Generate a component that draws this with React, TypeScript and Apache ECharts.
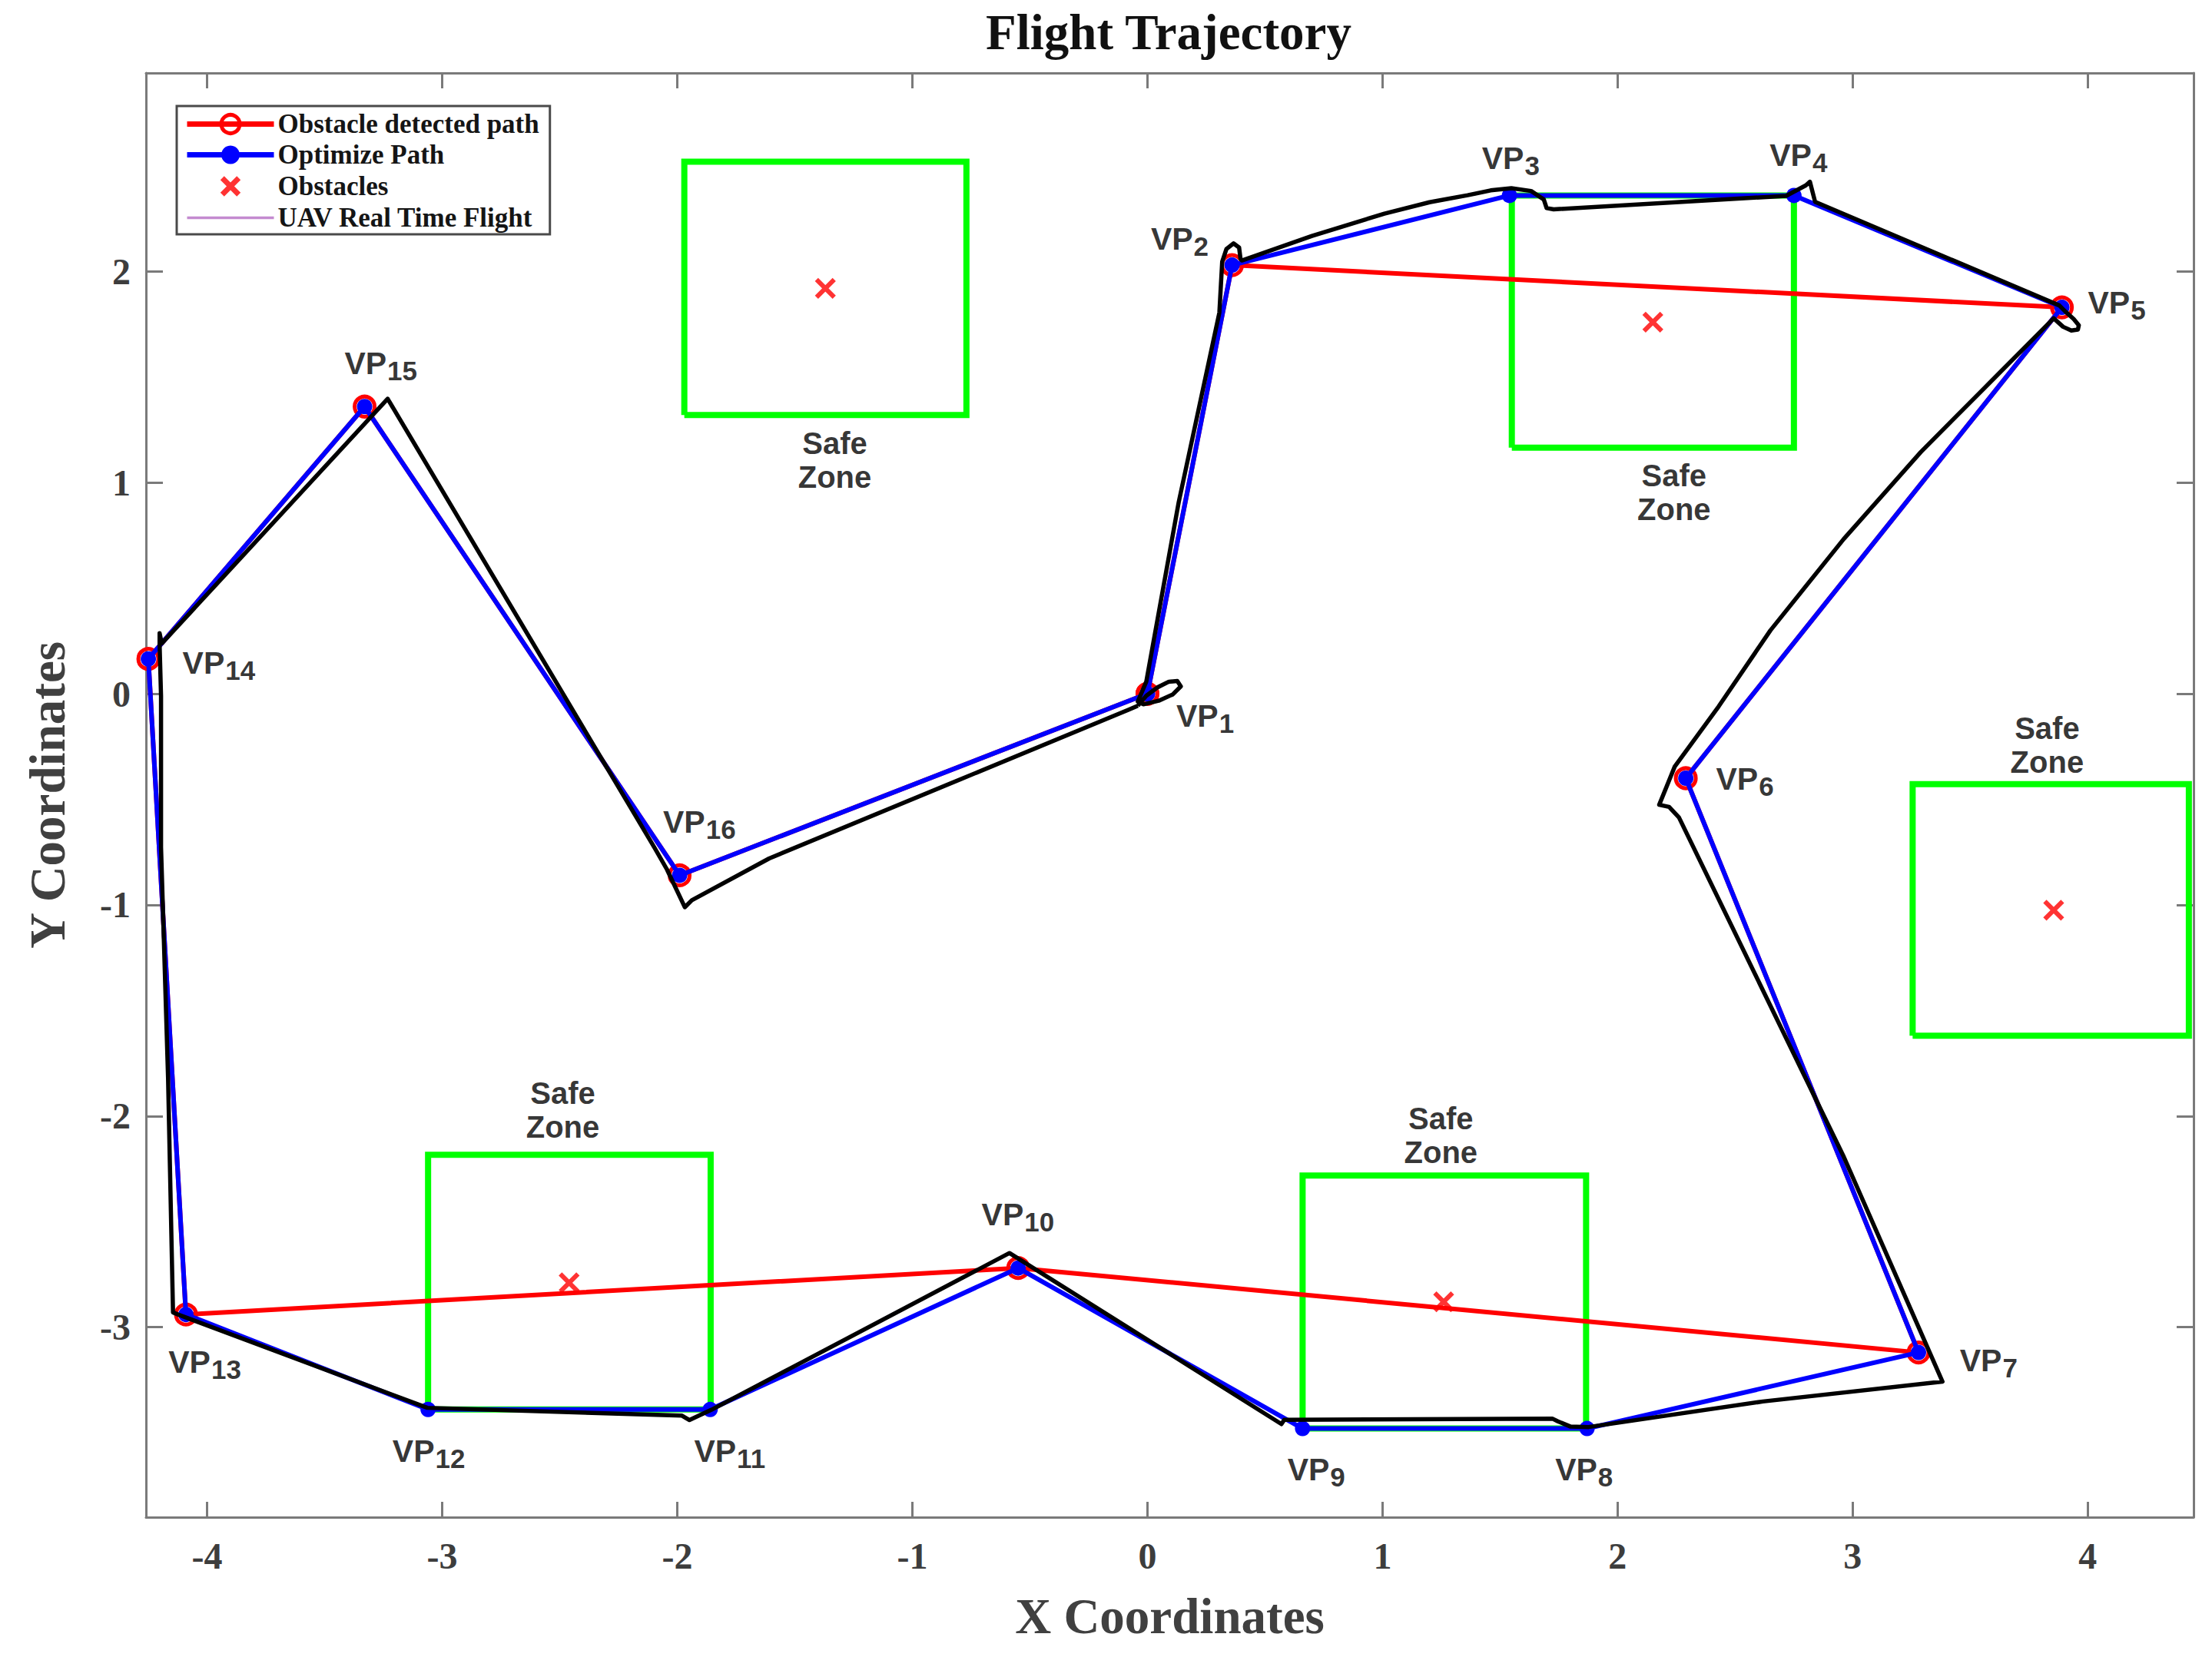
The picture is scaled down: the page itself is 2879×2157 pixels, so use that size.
import React, { useEffect, useRef } from "react";
import * as echarts from "echarts";

// ---------------- data ----------------
const X_MIN = -4.26;
const X_MAX = 4.45;
const Y_MIN = -3.9;
const Y_MAX = 2.94;

// Via points VP1 .. VP16
const waypoints: [number, number][] = [
  [0.0, 0.0],
  [0.36, 2.03],
  [1.54, 2.36],
  [2.75, 2.36],
  [3.89, 1.83],
  [2.29, -0.4],
  [3.28, -3.12],
  [1.87, -3.48],
  [0.66, -3.48],
  [-0.55, -2.72],
  [-1.86, -3.39],
  [-3.06, -3.39],
  [-4.09, -2.94],
  [-4.25, 0.165],
  [-3.33, 1.36],
  [-1.99, -0.86],
];

const detectedPathOrder = [1, 2, 5, 6, 7, 10, 13, 14, 15, 16, 1];
const optimizedPathOrder = [1, 2, 3, 4, 5, 6, 7, 8, 9, 10, 11, 12, 13, 14, 15, 16, 1];

const obstacles: [number, number][] = [
  [-1.37, 1.92],
  [2.15, 1.76],
  [3.855, -1.025],
  [1.26, -2.88],
  [-2.46, -2.79],
];

// [x0, y0, x1, y1]
const safeZones: [number, number, number, number][] = [
  [-1.97, 1.32, -0.77, 2.52],
  [1.55, 1.165, 2.75, 2.36],
  [3.255, -1.62, 4.43, -0.428],
  [0.66, -3.48, 1.866, -2.282],
  [-3.06, -3.39, -1.858, -2.184],
];

const safeZoneLabelAnchors: [number, number][] = [
  [-1.33, 1.108],
  [2.24, 0.954],
  [3.827, -0.244],
  [1.248, -2.093],
  [-2.487, -1.973],
];

const vpLabelAnchors: [number, number][] = [
  [0.121, -0.104],
  [0.013, 2.153],
  [1.421, 2.535],
  [2.645, 2.549],
  [3.999, 1.852],
  [2.417, -0.405],
  [3.454, -3.158],
  [1.733, -3.674],
  [0.594, -3.674],
  [-0.707, -2.468],
  [-1.93, -3.587],
  [-3.213, -3.587],
  [-4.166, -3.165],
  [-4.106, 0.144],
  [-3.417, 1.564],
  [-2.062, -0.606],
];

const uavFlight: [number, number][] = [
  [-0.041, -0.057],
  [-0.005, -0.01],
  [0.043, 0.03],
  [0.091, 0.057],
  [0.127, 0.06],
  [0.142, 0.035],
  [0.108, -0.003],
  [0.048, -0.033],
  [-0.017, -0.05],
  [-0.041, -0.037],
  [-0.023, 0.01],
  [-0.005, 0.057],
  [0.133, 0.907],
  [0.306, 1.805],
  [0.318, 2.046],
  [0.336, 2.106],
  [0.366, 2.133],
  [0.39, 2.113],
  [0.396, 2.059],
  [0.402, 2.052],
  [0.7, 2.168],
  [1.008, 2.274],
  [1.2, 2.328],
  [1.362, 2.361],
  [1.46, 2.384],
  [1.548, 2.394],
  [1.632, 2.381],
  [1.686, 2.341],
  [1.698, 2.3],
  [1.728, 2.294],
  [2.717, 2.358],
  [2.801, 2.408],
  [2.818, 2.425],
  [2.84, 2.33],
  [3.879, 1.839],
  [3.905, 1.81],
  [3.94, 1.775],
  [3.962, 1.745],
  [3.958, 1.725],
  [3.93, 1.72],
  [3.895, 1.738],
  [3.855, 1.778],
  [3.616, 1.51],
  [3.29, 1.145],
  [2.962, 0.733],
  [2.65, 0.3],
  [2.43, -0.06],
  [2.243, -0.345],
  [2.177, -0.526],
  [2.219, -0.536],
  [2.261, -0.586],
  [2.962, -2.193],
  [3.382, -3.258],
  [2.618, -3.352],
  [1.877, -3.473],
  [1.8, -3.471],
  [1.746, -3.446],
  [1.722, -3.433],
  [0.582, -3.439],
  [0.57, -3.459],
  [-0.587, -2.649],
  [-1.609, -3.248],
  [-1.854, -3.391],
  [-1.948, -3.44],
  [-1.98, -3.419],
  [-3.063, -3.382],
  [-4.124, -2.94],
  [-4.145, -2.93],
  [-4.166, -1.822],
  [-4.196, -0.727],
  [-4.196, -0.01],
  [-4.202, 0.231],
  [-4.202, 0.287],
  [-4.193, 0.238],
  [-3.232, 1.397],
  [-2.098, -0.727],
  [-2.044, -0.832],
  [-1.968, -1.011],
  [-1.938, -0.978],
  [-1.609, -0.78],
  [-0.083, -0.077],
  [-0.041, -0.057],
];

// ---------------- styles ----------------
const SERIF = "Liberation Serif";
const SANS = "Liberation Sans";
const AXIS_GRAY = "#7a7a7a";
const LABEL_GRAY = "#3d3d3d";

const intLabel = (v: number) =>
  Math.abs(v - Math.round(v)) < 1e-9 ? String(Math.round(v)) : "";

function buildOption(): any {
  const boxSeries = safeZones.map((b, i) => ({
    type: "line",
    name: "safe" + i,
    data: [
      [b[0], b[1]],
      [b[2], b[1]],
      [b[2], b[3]],
      [b[0], b[3]],
      [b[0], b[1]],
    ],
    symbol: "none",
    lineStyle: { color: "#00ff00", width: 8, join: "miter" },
    z: 1,
    silent: true,
  }));

  const commonX = {
    type: "value",
    min: X_MIN,
    max: X_MAX,
    splitNumber: 8,
    splitLine: { show: false },
    axisLine: { onZero: false, lineStyle: { color: AXIS_GRAY, width: 3 } },
    axisTick: { inside: true, length: 20, lineStyle: { color: AXIS_GRAY, width: 3 } },
  };
  const commonY = {
    type: "value",
    min: Y_MIN,
    max: Y_MAX,
    splitNumber: 6,
    splitLine: { show: false },
    axisLine: { onZero: false, lineStyle: { color: AXIS_GRAY, width: 3 } },
    axisTick: { inside: true, length: 22, lineStyle: { color: AXIS_GRAY, width: 3 } },
  };
  const tickLabel = {
    fontFamily: SERIF,
    fontWeight: "bold",
    fontSize: 48,
    color: LABEL_GRAY,
    formatter: intLabel,
  };
  const nameStyle = {
    fontFamily: SERIF,
    fontWeight: "bold",
    fontSize: 65,
    color: "#404040",
  };

  return {
    animation: false,
    backgroundColor: "#ffffff",
    title: {
      text: "Flight Trajectory",
      left: 1516,
      top: 4,
      textAlign: "center",
      textStyle: { fontFamily: SERIF, fontWeight: "bold", fontSize: 65, color: "#111" },
    },
    grid: { left: 190, right: 24, top: 95, bottom: 182, containLabel: false, outerBoundsMode: "none" },
    xAxis: [
      {
        ...commonX,
        position: "bottom",
        axisLabel: { ...tickLabel, margin: 26 },
        name: "X Coordinates",
        nameLocation: "middle",
        nameGap: 96,
        nameTextStyle: nameStyle,
      },
      { ...commonX, position: "top", axisLabel: { show: false } },
    ],
    yAxis: [
      {
        ...commonY,
        position: "left",
        axisLabel: { ...tickLabel, margin: 20 },
        name: "Y Coordinates",
        nameLocation: "middle",
        nameGap: 96,
        nameTextStyle: nameStyle,
      },
      { ...commonY, position: "right", axisLabel: { show: false } },
    ],
    legend: {
      orient: "vertical",
      left: 230,
      top: 138,
      padding: [6, 14, 4, 10],
      itemWidth: 113,
      itemHeight: 30,
      itemGap: 5,
      backgroundColor: "#ffffff",
      borderColor: "#4a4a4a",
      borderWidth: 3,
      selectedMode: false,
      textStyle: { fontFamily: SERIF, fontWeight: "bold", fontSize: 35, color: "#151515" },
      data: [
        {
          name: "Obstacle detected path",
          lineStyle: { color: "#ff0000", width: 7 },
          itemStyle: { color: "rgba(255,255,255,0)", borderColor: "#ff0000", borderWidth: 5 },
        },
        {
          name: "Optimize Path",
          lineStyle: { color: "#0000ff", width: 7 },
          itemStyle: { color: "#0000ff", borderWidth: 0 },
        },
        {
          name: "Obstacles",
          icon: "path://M-0.2,-0.2L-0.2,-0.2M1.2,1.2L1.2,1.2M0,0L1,1M1,0L0,1",
          itemStyle: { color: "rgba(255,0,0,0)", borderColor: "#ff0000", borderWidth: 7 },
        },
        {
          name: "UAV Real Time Flight",
          icon: "path://M0,0L100,0L100,3.2L0,3.2Z",
          itemStyle: { color: "#c48bd0", borderWidth: 0 },
        },
      ],
    },
    series: [
      ...boxSeries,
      {
        type: "line",
        name: "Obstacle detected path",
        data: detectedPathOrder.map((k) => waypoints[k - 1]),
        symbol: "circle",
        symbolSize: 26,
        itemStyle: { color: "rgba(255,0,0,0)", borderColor: "#ff0000", borderWidth: 5 },
        lineStyle: { color: "#ff0000", width: 6 },
        z: 2,
        silent: true,
      },
      {
        type: "line",
        name: "Optimize Path",
        data: optimizedPathOrder.map((k) => waypoints[k - 1]),
        symbol: "circle",
        symbolSize: 20,
        itemStyle: { color: "#0000ff", borderWidth: 0 },
        lineStyle: { color: "#0000ff", width: 6 },
        z: 3,
        silent: true,
      },
      {
        type: "line",
        name: "UAV Real Time Flight",
        data: uavFlight,
        symbol: "none",
        lineStyle: { color: "#000000", width: 5.5, join: "round" },
        itemStyle: { color: "#000000" },
        z: 4,
        silent: true,
      },
      {
        type: "scatter",
        name: "Obstacles",
        data: obstacles,
        symbol: "path://M0,0L1,1M1,0L0,1",
        symbolSize: 23,
        itemStyle: { color: "rgba(255,0,0,0)", borderColor: "#ff0000", borderWidth: 6 },
        z: 5,
        silent: true,
      },
      {
        type: "scatter",
        name: "vpLabels",
        data: vpLabelAnchors.map((p, i) => ({ value: p, name: String(i + 1) })),
        symbolSize: 1,
        itemStyle: { color: "rgba(0,0,0,0)" },
        z: 6,
        silent: true,
        label: {
          show: true,
          position: "right",
          distance: 0,
          formatter: (p: any) => `{a|VP}{b|${p.name}}`,
          rich: {
            a: {
              fontFamily: SANS,
              fontWeight: "bold",
              fontSize: 41,
              color: "#000",
              lineHeight: 52,
              verticalAlign: "middle",
            },
            b: {
              fontFamily: SANS,
              fontWeight: "bold",
              fontSize: 35,
              color: "#000",
              lineHeight: 52,
              height: 33,
              padding: [19, 0, 0, 1],
              verticalAlign: "top",
            },
          },
        },
      },
      {
        type: "scatter",
        name: "zoneLabels",
        data: safeZoneLabelAnchors,
        symbolSize: 1,
        itemStyle: { color: "rgba(0,0,0,0)" },
        z: 6,
        silent: true,
        label: {
          show: true,
          position: "inside",
          formatter: "Safe\nZone",
          fontFamily: SANS,
          fontWeight: "bold",
          fontSize: 40,
          lineHeight: 44,
          color: "#000",
          align: "center",
          verticalAlign: "middle",
        },
      },
    ],
  };
}

export default function App() {
  const ref = useRef<HTMLDivElement>(null);
  useEffect(() => {
    document.body.style.margin = "0";
    const chart = echarts.init(ref.current as HTMLDivElement, undefined, { renderer: "svg" });
    chart.setOption(buildOption());
    return () => {
      chart.dispose();
    };
  }, []);
  return <div ref={ref} style={{ width: 2879, height: 2157 }} />;
}
